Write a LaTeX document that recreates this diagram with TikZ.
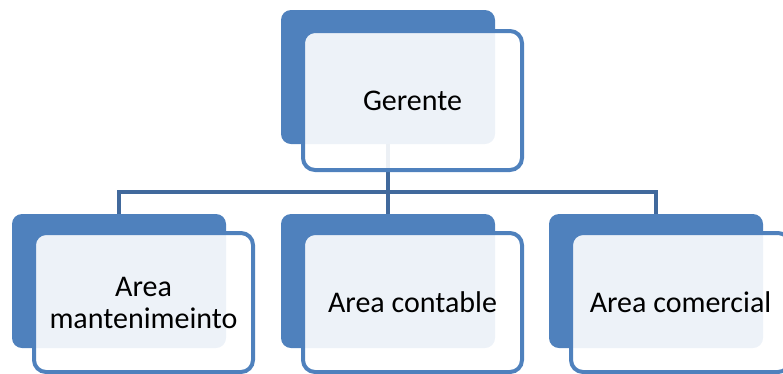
\documentclass[tikz,border=0pt]{standalone}
\usepackage{fontspec}
\setmainfont{Carlito}
\usetikzlibrary{backgrounds}
\definecolor{accent}{HTML}{4F81BD}
\definecolor{linkc}{HTML}{41699C}
\tikzset{
  backbox/.style={rectangle, rounded corners=10pt, fill=accent, draw=none,
    minimum width=214pt, minimum height=134pt, inner sep=0pt},
  frontbox/.style={rectangle, rounded corners=12pt, draw=accent, line width=4pt,
    fill=white, fill opacity=0.9, text opacity=1, minimum width=219pt, minimum height=139pt,
    inner sep=0pt, align=center, font=\fontsize{30pt}{32pt}\selectfont, text=black},
  link/.style={draw=linkc, line width=4pt}
}
\begin{document}
\begin{tikzpicture}[x=1pt,y=-1pt]
\useasboundingbox (0,0) rectangle (783,373);
% top
\node[backbox] (gb) at (388,77) {};
\node[frontbox] (g) at (412.5,100.5) {Gerente};
% children
\node[backbox] (ab) at (119,281) {};
\node[frontbox] (a) at (143.5,302.5) {Area\\mantenimeinto};
\node[backbox] (cb) at (388,281) {};
\node[frontbox] (c) at (412.5,302.5) {Area contable};
\node[backbox] (mb) at (656,281) {};
\node[frontbox] (m) at (680.5,302.5) {Area comercial};
\coordinate (bus) at (388,192);
\begin{scope}[on background layer]
\draw[link] (gb.south) -- (bus);
\draw[link] (ab.north) |- (bus) -| (mb.north);
\draw[link] (bus) -- (cb.north);
\end{scope}
\end{tikzpicture}
\end{document}
